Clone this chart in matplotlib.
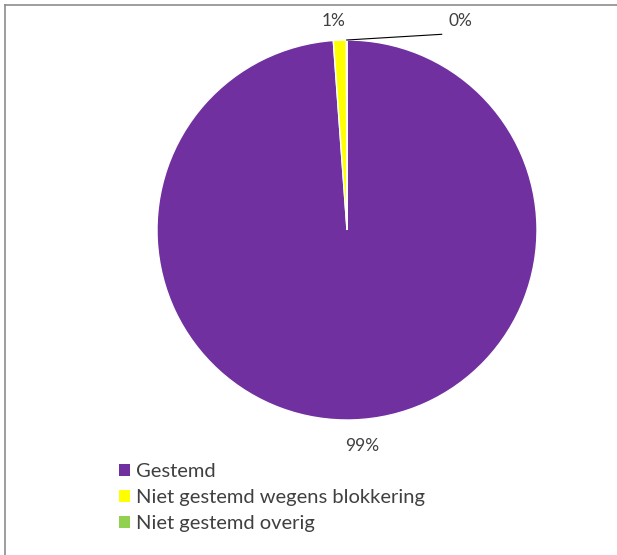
import numpy as np
import matplotlib.pyplot as plt
from matplotlib.lines import Line2D
from matplotlib.patches import Patch

plt.rcParams['font.family'] = ['Lato', 'DejaVu Sans']

categories = ['Gestemd', 'Niet gestemd wegens blokkering', 'Niet gestemd overig']
values = [98.85, 1.1, 0.05]
pct_labels = ['99%', '1%', '0%']
colors = ['#7030A0', '#FFFF00', '#92D050']

W, H = 617, 555
fig = plt.figure(figsize=(W / 100, H / 100), dpi=100)

# pie placement in pixels
cx, cy, r = 347, 230, 190
ax = fig.add_axes([(cx - r) / W, 1 - (cy + r) / H, 2 * r / W, 2 * r / H])
wedges, _ = ax.pie(values, colors=colors, startangle=90, counterclock=False,
                   radius=1, wedgeprops=dict(edgecolor='white', linewidth=1.0))
ax.set_xlim(-1, 1)
ax.set_ylim(-1, 1)
ax.set_aspect('equal')
ax.axis('off')

# data labels
for i, w in enumerate(wedges):
    ang = np.deg2rad((w.theta1 + w.theta2) / 2)
    x, y = np.cos(ang), np.sin(ang)
    if i == 0:
        ax.text(x * 1.14 + 0.04, y * 1.14, pct_labels[i], ha='center', va='center',
                fontsize=12.5, color='#404040', clip_on=False)
    elif i == 1:
        ax.text(x * 1.1 - 0.03, y * 1.1, pct_labels[i], ha='center', va='center',
                fontsize=12.5, color='#404040', clip_on=False)
    else:
        tx, ty = x + 0.6, 1.1
        ax.text(tx, ty, pct_labels[i], ha='center', va='center',
                fontsize=12.5, color='#404040', clip_on=False)
        ax.plot([x, tx - 0.1], [y, 1.03], color='black', lw=0.8, clip_on=False)

# legend
handles = [Patch(facecolor=c, edgecolor='none') for c in colors]
fig.legend(handles, categories, loc='upper left', bbox_to_anchor=(101 / W, 1 - 445 / H),
           frameon=False, fontsize=14.5, handlelength=0.55, handleheight=0.55,
           handletextpad=0.3, labelspacing=0.45, labelcolor='#404040')

# chart frame (top and left edges)
fig.add_artist(Line2D([5 / W, 1], [1 - 5 / H, 1 - 5 / H], color='#8c8c8c', lw=1.2))
fig.add_artist(Line2D([5 / W, 5 / W], [0, 1 - 5 / H], color='#8c8c8c', lw=1.2))

fig.savefig('out.png', dpi=100)
